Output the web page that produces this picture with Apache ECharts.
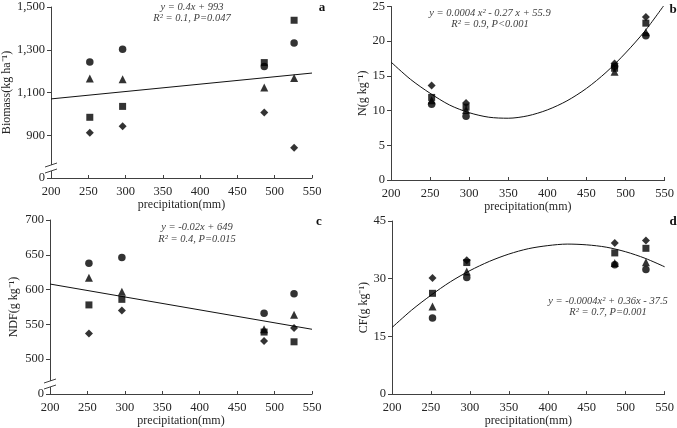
<!DOCTYPE html>
<html>
<head>
<meta charset="utf-8">
<script src="https://cdn.jsdelivr.net/npm/echarts@6/dist/echarts.min.js"></script>
<style>html,body{margin:0;padding:0;background:#fff}#c{width:677px;height:428px}</style>
</head>
<body>
<div id="c"></div>
<script>
// ---- data ----
const precip = [252, 296, 486, 526];
// (a) Biomass
const bioCircle   = [1243, 1302, 1222, 1332];
const bioTriangle = [1166, 1162, 1123, 1168];
const bioSquare   = [984, 1035, 1240, 1438];
const bioDiamond  = [912, 942, 1007, 842];
const bioTrendX = [200, 550];
const bioTrendY = [1070, 1191];
// (b) N
const nCircle   = [10.9, 9.2, 16.4, 20.8];
const nTriangle = [11.5, 10.1, 15.6, 21.3];
const nSquare   = [11.9, 10.5, 16.1, 22.6];
const nDiamond  = [13.6, 11.1, 16.8, 23.5];
const nCurveX = [200, 225, 250, 275, 300, 325, 350, 375, 400, 425, 450, 475, 500, 525, 550];
const nCurveY = [17.0, 14.5, 12.5, 10.8, 9.7, 9.05, 8.9, 9.25, 10.1, 11.4, 13.2, 15.5, 18.3, 21.5, 25.3];
// (c) NDF
const ndfCircle   = [638, 646, 566, 594];
const ndfTriangle = [617, 597, 543, 564];
const ndfSquare   = [578, 586, 539, 525];
const ndfDiamond  = [537, 570, 526, 545];
const ndfTrendX = [200, 550];
const ndfTrendY = [608, 543];
// (d) CF
const cfCircle   = [19.8, 30.3, 33.6, 32.4];
const cfTriangle = [22.8, 31.9, 34.1, 34.3];
const cfSquare   = [26.2, 34.2, 36.7, 37.9];
const cfDiamond  = [30.2, 34.8, 39.3, 39.9];
const cfCurveX = [200, 225, 250, 275, 300, 325, 350, 375, 400, 425, 450, 475, 500, 525, 550];
const cfCurveY = [17.3, 21.8, 25.7, 29.2, 32.1, 34.5, 36.4, 37.8, 38.6, 39.0, 38.8, 38.2, 37.0, 35.3, 33.1];
// tick labels
const xTicks = ['200', '250', '300', '350', '400', '450', '500', '550'];
const yTicksA = ['0', '900', '1,100', '1,300', '1,500'];
const yTicksB = ['0', '5', '10', '15', '20', '25'];
const yTicksC = ['0', '500', '550', '600', '650', '700'];
const yTicksD = ['0', '15', '30', '45'];

const FONT = 'Liberation Serif';
const AX = '#404040';
const TXT = '#262626';

const chart = echarts.init(document.getElementById('c'), null, {renderer: 'canvas'});

const grids = [
  {left: 50, top: 7, width: 262, height: 171},
  {left: 391, top: 5, width: 275, height: 175},
  {left: 50, top: 220, width: 262, height: 174},
  {left: 392, top: 221, width: 274, height: 175}
];

function xAxisFor(i) {
  return {
    type: 'value', gridIndex: i, min: 200, max: 550, interval: 50,
    name: 'precipitation(mm)', nameLocation: 'middle', nameGap: 19,
    nameTextStyle: {fontFamily: FONT, fontSize: 12, color: TXT},
    axisLine: {show: true, lineStyle: {color: AX, width: 1}},
    axisTick: {show: true, inside: true, length: 3, lineStyle: {color: AX}},
    axisLabel: {fontFamily: FONT, fontSize: 12.5, color: TXT, margin: 7,
      formatter: v => xTicks[Math.round((v - 200) / 50)]},
    splitLine: {show: false}
  };
}
function yAxisFor(i, min, max, interval, ticks, name, gap) {
  return {
    type: 'value', gridIndex: i, min: min, max: max, interval: interval,
    name: name, nameLocation: 'middle', nameGap: gap,
    nameTextStyle: {fontFamily: FONT, fontSize: 12, color: TXT},
    axisLine: {show: true, lineStyle: {color: AX, width: 1}},
    axisTick: {show: true, length: 4, lineStyle: {color: AX}},
    axisLabel: {fontFamily: FONT, fontSize: 12.5, color: TXT, margin: 6,
      formatter: v => ticks[Math.round((v - min) / interval)]},
    splitLine: {show: false}
  };
}

function pts(ys) { return precip.map((x, k) => [x, ys[k]]); }
function curve(xs, ys) { return xs.map((x, k) => [x, ys[k]]); }

const symbols = [
  {sym: 'circle', size: 7.5},
  {sym: 'triangle', size: 8},
  {sym: 'rect', size: 7},
  {sym: 'diamond', size: 8}
];
const panels = [
  {vals: [bioCircle, bioTriangle, bioSquare, bioDiamond], trend: curve(bioTrendX, bioTrendY), smooth: false},
  {vals: [nCircle, nTriangle, nSquare, nDiamond], trend: curve(nCurveX, nCurveY), smooth: true},
  {vals: [ndfCircle, ndfTriangle, ndfSquare, ndfDiamond], trend: curve(ndfTrendX, ndfTrendY), smooth: false},
  {vals: [cfCircle, cfTriangle, cfSquare, cfDiamond], trend: curve(cfCurveX, cfCurveY), smooth: true}
];

const series = [];
panels.forEach((p, i) => {
  series.push({
    type: 'line', xAxisIndex: i, yAxisIndex: i, data: p.trend, smooth: p.smooth ? 0.3 : false,
    showSymbol: false, symbol: 'none', lineStyle: {color: '#111', width: 1}, silent: true, clip: true, z: 1
  });
  p.vals.forEach((v, k) => {
    series.push({
      type: 'scatter', xAxisIndex: i, yAxisIndex: i, data: pts(v),
      symbol: symbols[k].sym, symbolSize: symbols[k].size,
      itemStyle: {color: '#000'}, z: 3
    });
  });
});

const eqStyle = {fontFamily: FONT, fontSize: 10.5, fontStyle: 'italic', fill: '#404040', textAlign: 'center'};
const lblStyle = {fontFamily: FONT, fontSize: 13, fontWeight: 'bold', fill: '#111', textAlign: 'center'};

const option = {
  backgroundColor: '#fff',
  animation: false,
  grid: grids,
  xAxis: [0, 1, 2, 3].map(xAxisFor),
  yAxis: [
    yAxisFor(0, 700, 1500, 200, yTicksA, 'Biomass(kg ha\u207B\u00B9)', 35),
    yAxisFor(1, 0, 25, 5, yTicksB, 'N(g kg\u207B\u00B9)', 22),
    yAxisFor(2, 450, 700, 50, yTicksC, 'NDF(g kg\u207B\u00B9)', 30),
    yAxisFor(3, 0, 45, 15, yTicksD, 'CF(g kg\u207B\u00B9)', 22)
  ],
  series: series,
  graphic: []
};
function eq(x, y, text) { option.graphic.push({type: 'text', style: Object.assign({x: x, y: y, text: text, textVerticalAlign: 'middle'}, eqStyle), z: 10}); }
function lbl(x, y, text) { option.graphic.push({type: 'text', style: Object.assign({x: x, y: y, text: text, textVerticalAlign: 'middle'}, lblStyle), z: 10}); }
eq(192, 7, 'y = 0.4x + 993');
eq(192, 18, 'R\u00B2 = 0.1, P=0.047');
eq(490, 13, 'y = 0.0004 x\u00B2 - 0.27 x + 55.9');
eq(490, 24, 'R\u00B2 = 0.9, P<0.001');
eq(197, 227, 'y = -0.02x + 649');
eq(197, 239, 'R\u00B2 = 0.4, P=0.015');
eq(608, 301, 'y = -0.0004x\u00B2 + 0.36x - 37.5');
eq(608, 312, 'R\u00B2 = 0.7, P=0.001');
lbl(322, 8, 'a');
lbl(673, 10, 'b');
lbl(319, 222, 'c');
lbl(673, 222, 'd');

chart.setOption(option);

// axis break marks on panels a and c
function breakMark(gi) {
  const base = chart.convertToPixel({gridIndex: gi}, [200, gi === 0 ? 700 : 450]);
  const x = base[0], y = base[1] - 10;
  return [
    {type: 'rect', shape: {x: x - 2, y: y - 3, width: 4, height: 6}, style: {fill: '#fff'}, z: 20},
    {type: 'line', shape: {x1: x - 6, y1: y - 1, x2: x + 6, y2: y - 5}, style: {stroke: AX, lineWidth: 1}, z: 21},
    {type: 'line', shape: {x1: x - 6, y1: y + 5, x2: x + 6, y2: y + 1}, style: {stroke: AX, lineWidth: 1}, z: 21}
  ];
}
chart.setOption({graphic: option.graphic.concat(breakMark(0), breakMark(2))});
</script>
</body>
</html>
